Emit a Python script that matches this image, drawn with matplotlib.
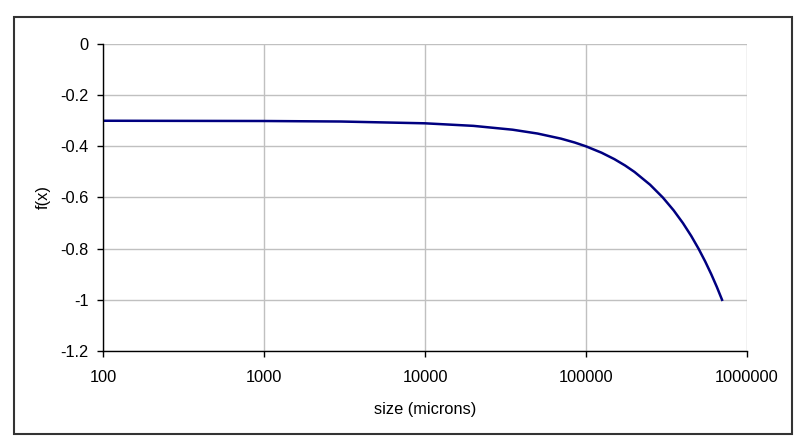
import matplotlib
matplotlib.use("Agg")
import matplotlib.pyplot as plt
from matplotlib.ticker import FixedLocator, FuncFormatter, NullLocator
from matplotlib.patches import Rectangle

plt.rcParams['font.family'] = ['Liberation Sans', 'DejaVu Sans']

# Data
size_microns = [100, 1000, 3000, 10000, 20000, 35000, 50000, 70000, 85000,
                100000, 125000, 150000, 175000, 200000, 250000, 300000,
                350000, 400000, 450000, 500000, 550000, 600000, 650000, 700000]
fx_values = [-0.300, -0.301, -0.303, -0.310, -0.320, -0.335, -0.350, -0.370,
             -0.385, -0.400, -0.425, -0.450, -0.475, -0.500, -0.550, -0.600,
             -0.650, -0.700, -0.750, -0.800, -0.850, -0.900, -0.950, -1.000]
x_ticks = [100, 1000, 10000, 100000, 1000000]
y_ticks = [0, -0.2, -0.4, -0.6, -0.8, -1, -1.2]
x_label = "size (microns)"
y_label = "f(x)"

fig = plt.figure(figsize=(8.12, 4.47), dpi=100)
fig.patches.append(Rectangle((14 / 812, 1 - 434 / 447), (792 - 14) / 812, (434 - 17) / 447,
                             transform=fig.transFigure, fill=False,
                             edgecolor='#333333', linewidth=1.5, zorder=0))

ax = fig.add_axes([103 / 812, 1 - 351 / 447, (747 - 103) / 812, (351 - 44) / 447])
ax.plot(size_microns, fx_values, color='#000080', linewidth=1.8, zorder=3,
        solid_joinstyle='round')

ax.set_xscale('log')
ax.set_xlim(100, 1000000)
ax.set_ylim(-1.2, 0)
ax.xaxis.set_major_locator(FixedLocator(x_ticks))
ax.xaxis.set_minor_locator(NullLocator())
ax.xaxis.set_major_formatter(FuncFormatter(lambda v, p: f"{int(round(v))}"))
ax.yaxis.set_major_locator(FixedLocator(y_ticks))
ax.yaxis.set_major_formatter(FuncFormatter(lambda v, p: f"{v:g}" if v != 0 else "0"))

ax.grid(True, color='#c0c0c0', linewidth=1.0, zorder=1)
ax.set_axisbelow(True)
for s in ['top', 'right']:
    ax.spines[s].set_visible(False)
for s in ['left', 'bottom']:
    ax.spines[s].set_color('black')
    ax.spines[s].set_linewidth(1.0)
    ax.spines[s].set_zorder(4)

ax.tick_params(axis='x', direction='out', length=4, width=1, pad=10, labelsize=11.8)
ax.tick_params(axis='y', direction='out', length=4, width=1, pad=6.5, labelsize=11.8)

ax.set_xlabel(x_label, fontsize=11.8, labelpad=12)
ax.set_ylabel(y_label, fontsize=11.8, labelpad=7)

fig.savefig("out.png", dpi=100, facecolor='white')
